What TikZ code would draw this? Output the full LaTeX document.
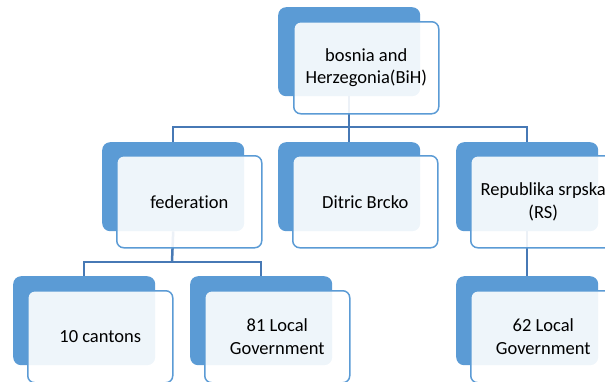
\documentclass[tikz,border=0pt]{standalone}
\usepackage{fontspec}
\setmainfont[Ligatures=NoCommon]{Carlito}
\definecolor{boxblue}{HTML}{5B9BD5}
\definecolor{linkblue}{HTML}{4779B5}
\begin{document}
\begin{tikzpicture}[x=1pt,y=-1pt,
  backbox/.style={fill=boxblue, rounded corners=8pt, minimum width=142pt, minimum height=89pt, inner sep=0pt, anchor=north west},
  frontbox/.style={draw=boxblue, line width=1.5pt, fill=white, fill opacity=0.9, text opacity=1, rounded corners=7pt, minimum width=145pt, minimum height=92pt, inner sep=0pt, anchor=north west, align=center, font=\fontsize{18.5}{22.5}\selectfont},
  conn/.style={draw=linkblue, line width=2.5pt}]
\useasboundingbox (0,0) rectangle (605,381);
\clip (0,0) rectangle (605,381);
% back boxes
\node[backbox] (tb) at (278,7) {};
\node[backbox] (fb) at (102,142) {};
\node[backbox] (db) at (278,142) {};
\node[backbox] (rb) at (456,142) {};
\node[backbox] (cb) at (13,276) {};
\node[backbox] (lb) at (190,276) {};
\node[backbox] (gb) at (456,276) {};
% connectors
\coordinate (j1) at (349,127);
\coordinate (j2) at (172,262);
\draw[conn] (tb.south) -- (db.north);
\draw[conn] (fb.north) |- (j1) -| (rb.north);
\draw[conn] (fb.south) -- (j2);
\draw[conn] (cb.north) |- (j2) -| (lb.north);
\draw[conn] (rb.south) -- (gb.north);
% front boxes
\node[frontbox] (t) at (293,21) {bosnia and\\Herzegonia(BiH)};
\node[frontbox] (f) at (116,155) {federation};
\node[frontbox] (d) at (292,155) {Ditric Brcko};
\node[frontbox] (r) at (470,155) {Republika srpska\\(RS)};
\node[frontbox] (c) at (27,290) {10 cantons};
\node[frontbox] (l) at (204,290) {81 Local\\Government};
\node[frontbox] (g) at (470,290) {62 Local\\Government};
\end{tikzpicture}
\end{document}
